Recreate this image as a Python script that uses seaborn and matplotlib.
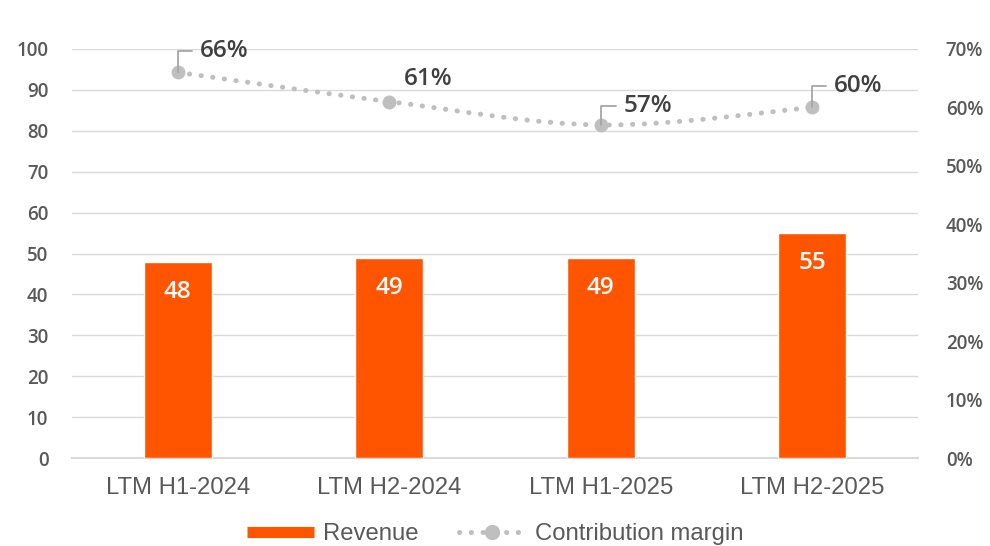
import numpy as np
import pandas as pd
import matplotlib
matplotlib.use("Agg")
import matplotlib.pyplot as plt
from matplotlib.path import Path
from matplotlib.patches import PathPatch
from matplotlib.lines import Line2D
import seaborn as sns

categories = ["LTM H1-2024", "LTM H2-2024", "LTM H1-2025", "LTM H2-2025"]
revenue = [48, 49, 49, 55]
margin = [66, 61, 57, 60]
left_ticks = [0, 10, 20, 30, 40, 50, 60, 70, 80, 90, 100]
right_ticks = [0, 10, 20, 30, 40, 50, 60, 70]

ORANGE = "#FF5500"
LGRAY = "#BFBFBF"
TICK = "#595959"
LABEL = "#404040"
GRID = "#D9D9D9"

sns.set_theme(style="white")
plt.rcParams["font.family"] = ["Open Sans", "DejaVu Sans"]

fig = plt.figure(figsize=(9.9, 5.46), dpi=100)
ax = fig.add_axes([72/990, 1-458/546, (918-72)/990, (458-49)/546])

df = pd.DataFrame({"cat": categories, "rev": revenue})
sns.barplot(data=df, x="cat", y="rev", color=ORANGE, width=0.32, saturation=1,
            ax=ax, zorder=3)
ax.set_ylim(0, 100)
ax.set_xlim(-0.5, 3.5)
ax.set_yticks(left_ticks)
ax.set_xlabel("")
ax.set_ylabel("")
ax.grid(axis="y", color=GRID, lw=1.0, zorder=0)
ax.set_axisbelow(True)
for s in ["top", "right", "left"]:
    ax.spines[s].set_visible(False)
ax.spines["bottom"].set_color(GRID)
ax.spines["bottom"].set_linewidth(1.5)
ax.tick_params(axis="y", length=0, pad=17, labelsize=13.5, labelcolor=TICK)
ax.tick_params(axis="x", length=0, pad=14, labelcolor=TICK)
for t in ax.get_yticklabels():
    t.set_fontweight("semibold")
for t in ax.get_xticklabels():
    t.set_fontfamily(["Liberation Sans", "DejaVu Sans"])
    t.set_fontsize(17.2)

for i, v in enumerate(revenue):
    ax.annotate(f"{v}", xy=(i, v), xytext=(0, -30), textcoords="offset pixels",
                ha="center", va="center", color="white", fontsize=17.5,
                fontweight="semibold", zorder=5)

ax2 = ax.twinx()
ax2.set_ylim(0, 70)
ax2.set_yticks(right_ticks)
ax2.set_yticklabels([f"{t}%" for t in right_ticks])
for s in ["top", "right", "left", "bottom"]:
    ax2.spines[s].set_visible(False)
ax2.tick_params(axis="y", length=0, pad=20, labelsize=13.5, labelcolor=TICK)
for t in ax2.get_yticklabels():
    t.set_fontweight("semibold")
ax2.grid(False)

# smooth (Bezier) connecting curve through the data points
xs = np.arange(len(margin), dtype=float)
ys = np.array(margin, dtype=float)
verts = [(xs[0], ys[0])]
codes = [Path.MOVETO]
n = len(xs)
for k in range(n - 1):
    p0 = np.array([xs[max(k-1, 0)], ys[max(k-1, 0)]])
    p1 = np.array([xs[k], ys[k]])
    p2 = np.array([xs[k+1], ys[k+1]])
    p3 = np.array([xs[min(k+2, n-1)], ys[min(k+2, n-1)]])
    c1 = p1 + (p2 - p0) / 6
    c2 = p2 - (p3 - p1) / 6
    verts += [tuple(c1), tuple(c2), tuple(p2)]
    codes += [Path.CURVE4] * 3
patch = PathPatch(Path(verts, codes), fill=False, edgecolor=LGRAY, lw=3.6,
                  linestyle=(0, (0.05, 2.3)), capstyle="round", zorder=4)
ax2.add_patch(patch)
sns.scatterplot(x=xs, y=ys, ax=ax2, color=LGRAY, s=100, edgecolor=LGRAY,
                linewidth=0, zorder=5, legend=False)

label_offsets = [(22, 21), (15, 23), (23, 19), (22, 21)]
leaders = [True, False, True, True]
for i, v in enumerate(margin):
    dx, dy = label_offsets[i]
    if leaders[i]:
        ax2.annotate("", xy=(i, v), xytext=(dx - 8, dy), textcoords="offset pixels",
                     arrowprops=dict(arrowstyle="-", color="#A6A6A6", lw=1.3,
                                     connectionstyle="angle,angleA=0,angleB=90,rad=0",
                                     shrinkA=0, shrinkB=0), zorder=6)
    ax2.annotate(f"{v}%", xy=(i, v), xytext=(dx, dy), textcoords="offset pixels",
                 ha="left", va="center", color=LABEL, fontsize=17.5,
                 fontweight="semibold", zorder=6)

handles = [
    Line2D([], [], color=ORANGE, lw=8, solid_capstyle="butt"),
    Line2D([], [], color=LGRAY, lw=3.6, linestyle=(0, (0.05, 2.3)),
           dash_capstyle="round", marker="o", markersize=10,
           markerfacecolor=LGRAY, markeredgecolor=LGRAY),
]
leg = fig.legend(handles, ["Revenue", "Contribution margin"], loc="center",
                 bbox_to_anchor=(0.5, 1 - 534/546), ncol=2, frameon=False,
                 handlelength=2.8, handletextpad=0.38, columnspacing=1.7,
                 prop={"family": ["Liberation Sans", "DejaVu Sans"], "size": 17.2},
                 numpoints=1)
for t in leg.get_texts():
    t.set_color(TICK)

fig.savefig("out.png", dpi=100)
